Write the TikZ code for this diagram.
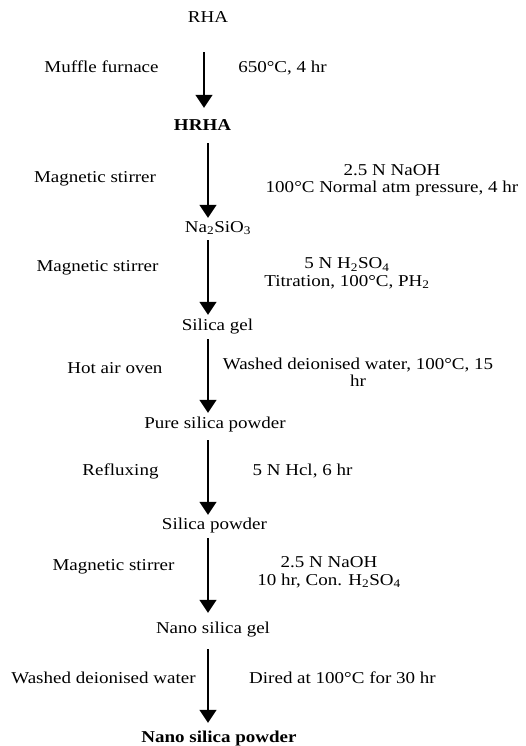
\documentclass[tikz,border=0pt]{standalone}
\usepackage{fontspec}
\setmainfont{Liberation Serif}[FakeStretch=1.145]
\usetikzlibrary{arrows.meta}

\begin{document}
\begin{tikzpicture}[x=1pt, y=-1pt]
  \tikzstyle{every node}=[inner sep=0pt, font=\fontsize{16.6}{16.5}\selectfont]
  \tikzstyle{stage}=[anchor=base, text height=12pt, text depth=0pt]
  \tikzstyle{side}=[anchor=base]
  \tikzstyle{cond}=[anchor=north, align=center, font=\fontsize{16.6}{17.5}\selectfont]
  \tikzstyle{flow}=[line width=1.6pt, -{Triangle[width=17pt,length=13pt]}]

  \useasboundingbox (0,0) rectangle (525,746);
  \coordinate (axis) at (208,0);
  \coordinate (axis1) at (204,0);

  % products
  \node[stage] (rha) at (208,23) {RHA};
  \node[stage] (hrha) at (202.5,131) {\bf HRHA};
  \node[stage] (silicate) at (218,232) {Na\textsubscript{2}SiO\textsubscript{3}};
  \node[stage] (gel) at (217.5,330) {Silica gel};
  \node[stage] (pure) at (215,428) {Pure silica powder};
  \node[stage] (powder) at (214.5,529) {Silica powder};
  \node[stage] (nanogel) at (213,633) {Nano silica gel};
  \node[stage] (nanopowder) at (219,742) {\bf Nano silica powder};

  % treatments
  \node[side] (furnace) at (101.5,73) {Muffle furnace};
  \node[side] (furnacec) at (282.5,73) {650°C, 4 hr};
  \node[side] (stirA) at (95,182.7) {Magnetic stirrer};
  \node[cond] (stirAc) at (392,164) {2.5 N NaOH\\100°C Normal atm pressure, 4 hr};
  \node[side] (stirB) at (97.5,271.7) {Magnetic stirrer};
  \node[cond] (stirBc) at (347,257.5) {5 N H\textsubscript{2}SO\textsubscript{4}\\Titration, 100°C, PH\textsubscript{2}};
  \node[side] (oven) at (115,373.3) {Hot air oven};
  \node[cond] (ovenc) at (358,357.5) {Washed deionised water, 100°C, 15\\hr};
  \node[side] (reflux) at (120.5,475) {Refluxing};
  \node[side] (refluxc) at (302.5,475) {5 N Hcl, 6 hr};
  \node[side] (stirC) at (113.5,570) {Magnetic stirrer};
  \node[cond] (stirCc) at (329,556.5) {2.5 N NaOH\\10 hr, Con. H\textsubscript{2}SO\textsubscript{4}};
  \node[side] (wash) at (103.5,683) {Washed deionised water};
  \node[side] (washc) at (342.5,683) {Dired at 100°C for 30 hr};

  % arrows
  \draw[flow, shorten <=29pt, shorten >=11pt] (rha.south -| axis1) -- (hrha.north -| axis1);
  \draw[flow, shorten <=12pt, shorten >=2pt] (hrha.south -| axis) -- (silicate.north -| axis);
  \draw[flow, shorten <=8pt, shorten >=3pt] (silicate.south -| axis) -- (gel.north -| axis);
  \draw[flow, shorten <=9pt, shorten >=3pt] (gel.south -| axis) -- (pure.north -| axis);
  \draw[flow, shorten <=12pt, shorten >=2pt] (pure.south -| axis) -- (powder.north -| axis);
  \draw[flow, shorten <=9pt, shorten >=8pt] (powder.south -| axis) -- (nanogel.north -| axis);
  \draw[flow, shorten <=16pt, shorten >=7pt] (nanogel.south -| axis) -- (nanopowder.north -| axis);

\end{tikzpicture}
\end{document}
